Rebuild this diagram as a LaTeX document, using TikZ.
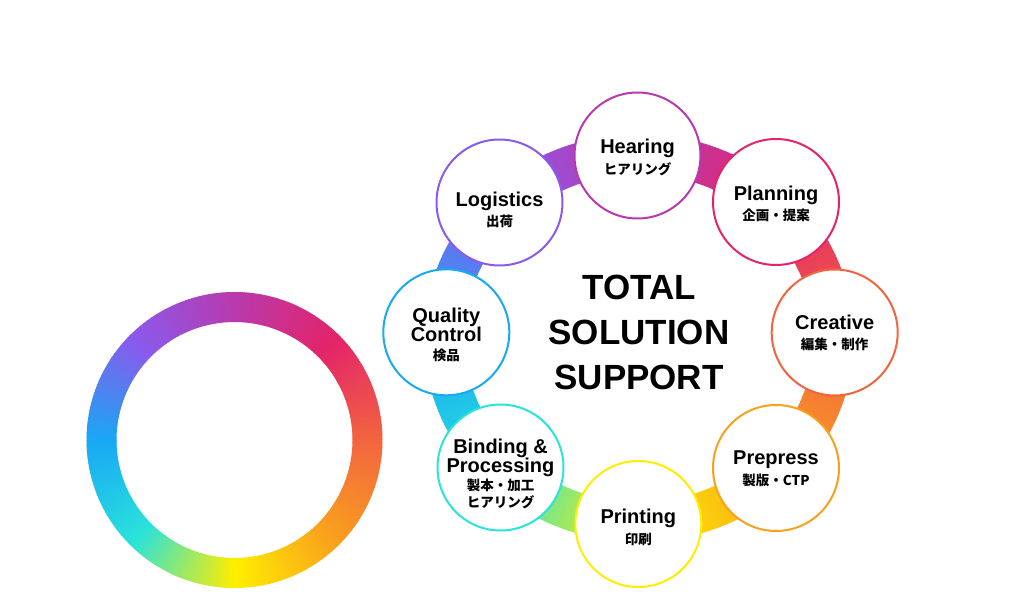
\documentclass[tikz,border=0pt]{standalone}
\usepackage{fontspec}
\setmainfont{Liberation Sans}
\newfontfamily\jpfont{Noto Sans CJK JP}
\usetikzlibrary{positioning}

\definecolor{ring0}{HTML}{F26440}
\definecolor{ring1}{HTML}{E3246A}
\definecolor{ring2}{HTML}{B83AAE}
\definecolor{ring3}{HTML}{8A5AEC}
\definecolor{ring4}{HTML}{18A8F5}
\definecolor{ring5}{HTML}{2AE3DA}
\definecolor{ring6}{HTML}{FFEE00}
\definecolor{ring7}{HTML}{F9A01E}

\tikzset{
  stage/.style={circle, draw=#1, line width=2pt, fill=white, minimum size=126pt, inner sep=0pt},
  title/.style={anchor=base, font=\bfseries\fontsize{20}{20}\selectfont},
  sub/.style={anchor=base, font=\jpfont\bfseries\fontsize{13.5}{14}\selectfont},
  big/.style={anchor=base, font=\bfseries\fontsize{35}{35}\selectfont}
}

\begin{document}
\begin{tikzpicture}[x=1pt,y=1pt]
        \useasboundingbox (0,0) rectangle (1026,600);

        % Draw the colour ring on the left and the band behind the stages
        \foreach \a/\ca/\cb in {0/ring0/ring1,45/ring1/ring2,90/ring2/ring3,135/ring3/ring4,180/ring4/ring5,225/ring5/ring6,270/ring6/ring7,315/ring7/ring0}{
          \foreach \i in {0,...,44}{
            \pgfmathtruncatemacro\mixp{100-\i*100/45}
            \pgfmathsetmacro\angS{\a+\i}
            \pgfmathsetmacro\angE{\a+\i+1.3}
            \begin{scope}[shift={(234.5,160)}]
              \fill[\ca!\mixp!\cb] (\angS:148) arc[start angle=\angS, end angle=\angE, radius=148]
                -- (\angE:118) arc[start angle=\angE, end angle=\angS, radius=118] -- cycle;
            \end{scope}
            \begin{scope}[shift={(639,262)}]
              \fill[\ca!\mixp!\cb] (\angS:215 and 204) arc[start angle=\angS, end angle=\angE, x radius=215, y radius=204]
                -- (\angE:175 and 164) arc[start angle=\angE, end angle=\angS, x radius=175, y radius=164] -- cycle;
            \end{scope}
          }
        }

        % Draw the stages
        \node[stage=ring2] (hear) at (637.5,444.5) {};
        \node[stage=ring1] (plan) at (776,398) {};
        \node[stage=ring0] (crea) at (834.7,267.5) {};
        \node[stage=ring7] (prep) at (776,132) {};
        \node[stage=ring6] (prin) at (638.3,76) {};
        \node[stage=ring5] (bind) at (500.5,132.5) {};
        \node[stage=ring4] (qual) at (446.3,267.7) {};
        \node[stage=ring3] (logi) at (499.5,397.5) {};

        % Label the stages
        \node[title] (hear-t) at ([yshift=2]hear.center) {Hearing};
        \node[sub] (hear-j) at ([yshift=-19]hear.center) {ヒアリング};

        \node[title] (plan-t) at ([yshift=1]plan.center) {Planning};
        \node[sub] (plan-j) at ([yshift=-19]plan.center) {企画・提案};

        \node[title] (crea-t) at ([yshift=3]crea.center) {Creative};
        \node[sub] (crea-j) at ([yshift=-17]crea.center) {編集・制作};

        \node[title] (prep-t) at ([yshift=3]prep.center) {Prepress};
        \node[sub] (prep-j) at ([yshift=-18]prep.center) {製版・CTP};

        \node[title] (prin-t) at ([yshift=0]prin.center) {Printing};
        \node[sub] (prin-j) at ([yshift=-20.5]prin.center) {印刷};

        \node[title] (bind-t) at ([yshift=14]bind.center) {Binding \&};
        \node[title] (bind-u) at ([yshift=-5.5]bind.center) {Processing};
        \node[sub] (bind-j) at ([yshift=-23.5]bind.center) {製本・加工};
        \node[sub] (bind-k) at ([yshift=-40]bind.center) {ヒアリング};

        \node[title] (qual-t) at ([yshift=9.5]qual.center) {Quality};
        \node[title] (qual-u) at ([yshift=-9.5]qual.center) {Control};
        \node[sub] (qual-j) at ([yshift=-28]qual.center) {検品};

        \node[title] (logi-t) at ([yshift=-4.5]logi.center) {Logistics};
        \node[sub] (logi-j) at ([yshift=-24]logi.center) {出荷};

        % Label the centre
        \node[big] (total) at (639,300) {TOTAL};
        \node[big] (solution) at (639,255) {SOLUTION};
        \node[big] (support) at (639,210) {SUPPORT};
    \end{tikzpicture}
\end{document}
